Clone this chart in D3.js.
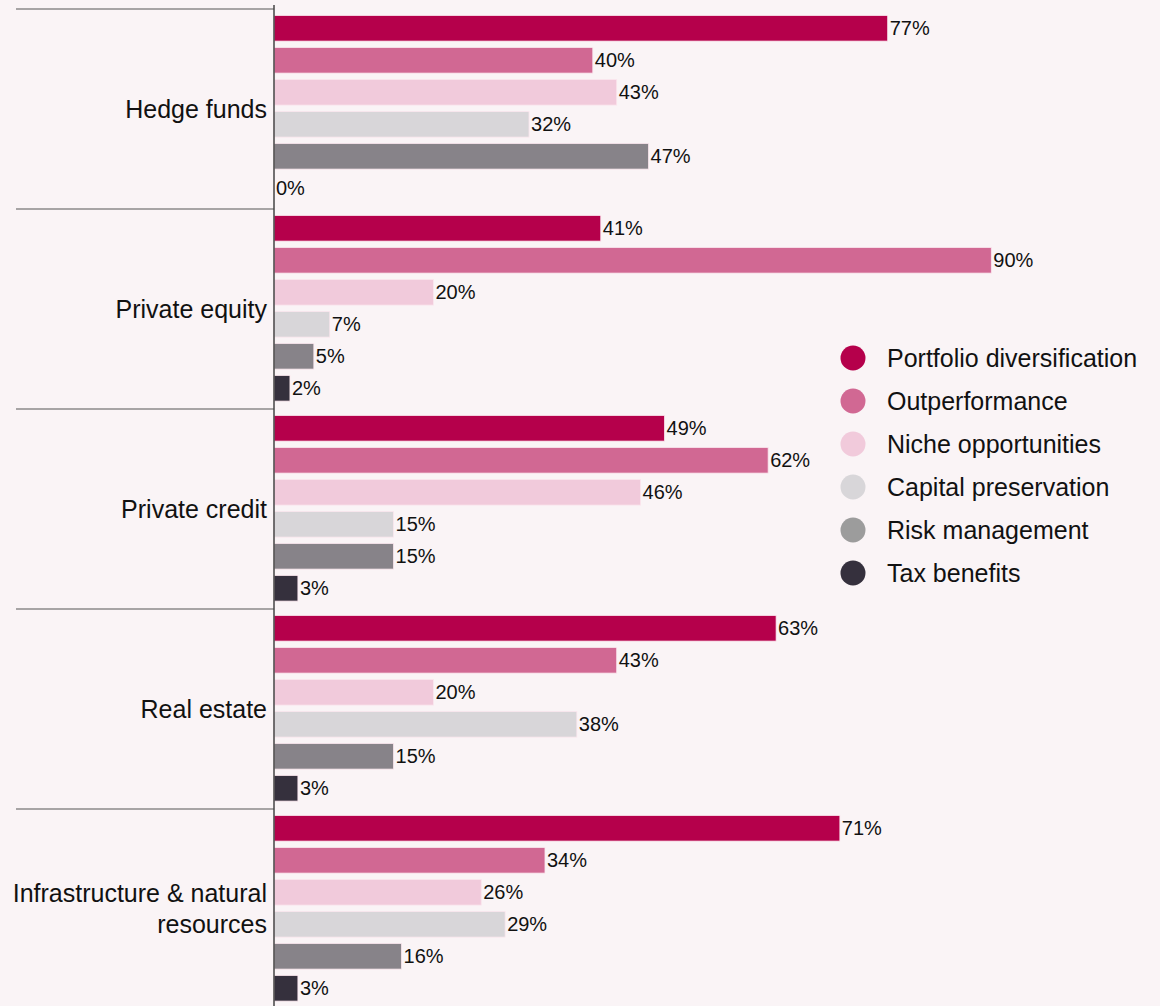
<!DOCTYPE html>
<html>
<head>
<meta charset="utf-8">
<script src="https://cdn.jsdelivr.net/npm/d3@7"></script>
<style>
  html, body { margin: 0; padding: 0; background: #faf4f6; }
  svg { display: block; font-family: "Liberation Sans", Arial, sans-serif; }
</style>
</head>
<body>
<svg id="chart" width="1160" height="1006"></svg>
<script>
// Reasons for investing, by asset class (% of respondents)
const categories = [
  ["Hedge funds"],
  ["Private equity"],
  ["Private credit"],
  ["Real estate"],
  ["Infrastructure & natural", "resources"]
];
const seriesNames = [
  "Portfolio diversification",
  "Outperformance",
  "Niche opportunities",
  "Capital preservation",
  "Risk management",
  "Tax benefits"
];
const seriesColors = ["#b5004b", "#d16893", "#f1cadb", "#d8d6d9", "#878389", "#35303d"];
const legendColors = ["#b5004b", "#d16893", "#f1cadb", "#d8d6d9", "#9c9c9c", "#35303d"];
// values[category][series]
const values = [
  [77, 40, 43, 32, 47, 0],
  [41, 90, 20, 7, 5, 2],
  [49, 62, 46, 15, 15, 3],
  [63, 43, 20, 38, 15, 3],
  [71, 34, 26, 29, 16, 3]
];

const svg = d3.select("#chart");
const axisX = 274;

const x = d3.scaleLinear().domain([0, 100]).range([axisX, 1071]);
const y0 = d3.scaleBand().domain(d3.range(categories.length)).range([9, 1009]);
const y1 = d3.scaleBand().domain(d3.range(seriesNames.length))
  .range([6.5, 192.1]).paddingInner(0.2).paddingOuter(0);

// group separators
svg.append("g").selectAll("line")
  .data(d3.range(categories.length))
  .join("line")
  .attr("x1", 16).attr("x2", axisX)
  .attr("y1", i => y0(i)).attr("y2", i => y0(i))
  .attr("stroke", "#555").attr("stroke-width", 1);

// category labels
svg.append("g").selectAll("text")
  .data(categories)
  .join("text")
  .attr("text-anchor", "end")
  .attr("font-size", 25)
  .attr("fill", "#111")
  .each(function(lines, i) {
    const cy = y0(i) + y0.bandwidth() / 2;
    const lh = 31;
    const start = cy - (lines.length - 1) * lh / 2;
    d3.select(this).selectAll("tspan")
      .data(lines)
      .join("tspan")
      .attr("x", axisX - 7)
      .attr("y", (d, k) => start + k * lh)
      .attr("dy", "0.35em")
      .text(d => d);
  });

// bars
const groups = svg.append("g").selectAll("g")
  .data(values)
  .join("g")
  .attr("transform", (d, i) => `translate(0,${y0(i)})`);

groups.selectAll("rect")
  .data(d => d)
  .join("rect")
  .attr("x", x(0))
  .attr("y", (d, j) => y1(j))
  .attr("width", d => x(d) - x(0))
  .attr("height", y1.bandwidth())
  .attr("fill", (d, j) => seriesColors[j])
  .attr("stroke", "#fbe6ee")
  .attr("stroke-width", 0.8);

groups.selectAll("text")
  .data(d => d)
  .join("text")
  .attr("x", d => x(d) + 2)
  .attr("y", (d, j) => y1(j) + y1.bandwidth() / 2)
  .attr("dy", "0.33em")
  .attr("font-size", 20)
  .attr("fill", "#111")
  .text(d => d + "%");

// vertical axis line
svg.append("line")
  .attr("x1", axisX).attr("x2", axisX)
  .attr("y1", 5).attr("y2", 1006)
  .attr("stroke", "#444").attr("stroke-width", 1.5);

// legend
const legend = svg.append("g").attr("transform", "translate(853,358)");
const items = legend.selectAll("g")
  .data(seriesNames)
  .join("g")
  .attr("transform", (d, i) => `translate(0,${i * 43})`);
items.append("circle").attr("r", 12.5).attr("fill", (d, i) => legendColors[i]);
items.append("text")
  .attr("x", 34).attr("dy", "0.35em")
  .attr("font-size", 25)
  .attr("fill", "#111")
  .text(d => d);
</script>
</body>
</html>
